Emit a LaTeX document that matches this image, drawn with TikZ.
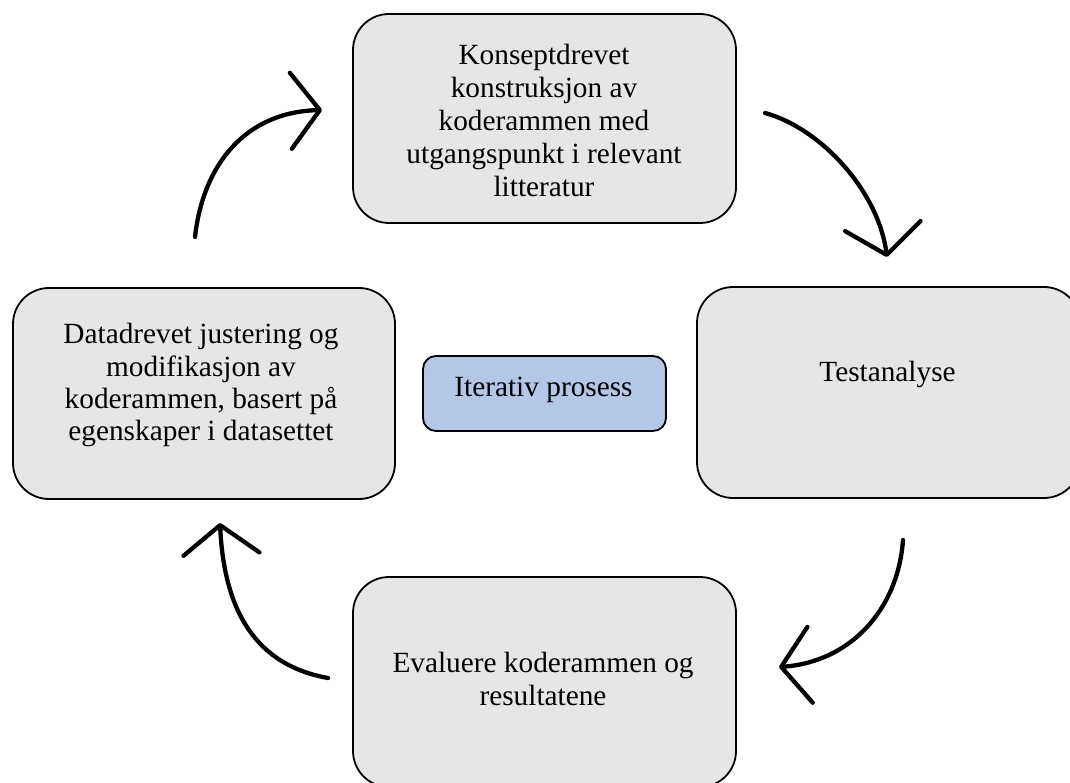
\documentclass[tikz,border=0pt]{standalone}
\usepackage{fontspec}
\setmainfont{Liberation Serif}
\usetikzlibrary{arrows.meta}
\definecolor{boxgray}{HTML}{E6E6E6}
\definecolor{boxblue}{HTML}{B4C7E7}
\newcommand{\lines}[1]{\begin{tabular}[t]{@{}c@{}}#1\end{tabular}}
\begin{document}
\begin{tikzpicture}[x=1pt,y=-1pt,
  stage/.style={draw=black, line width=1.8pt, fill=boxgray, rounded corners=36pt, inner sep=0pt},
  hub/.style={draw=black, line width=1.8pt, fill=boxblue, rounded corners=13pt, inner sep=0pt},
  caption/.style={anchor=base, inner sep=0pt, font=\fontsize{29.3}{33}\selectfont},
  flow/.style={line width=4.3pt, line cap=round, -{Straight Barb[length=29pt,width=76pt,round]}}]
\useasboundingbox (0,0) rectangle (1070,783);

% the four stages of the cycle and the hub in the middle
\node[stage, minimum width=383pt, minimum height=209pt] (concept) at (544.5,118.5) {};
\node[stage, minimum width=383pt, minimum height=211pt] (test)    at (888.5,392.5) {};
\node[stage, minimum width=383pt, minimum height=210pt] (eval)    at (544.5,682) {};
\node[stage, minimum width=382pt, minimum height=211pt] (adjust)  at (204,393.5) {};
\node[hub,   minimum width=243pt, minimum height=75pt]  (hub)     at (544.5,393.5) {};

% texts
\node[caption] (conceptText) at (544,64.5) {\lines{Konseptdrevet\\konstruksjon av\\koderammen med\\utgangspunkt i relevant\\litteratur}};
\node[caption] (testText)    at (887.5,381) {\lines{Testanalyse}};
\node[caption] (evalText)    at (543,672.5) {\lines{Evaluere koderammen og\\resultatene}};
\node[caption, font=\fontsize{29.3}{32.3}\selectfont] (adjustText) at (201,344) {\lines{Datadrevet justering og\\modifikasjon av\\koderammen, basert på\\egenskaper i datasettet}};
\node[caption] (hubText)     at (543.5,396) {\lines{Iterativ prosess}};

% free ends of the curved arrows
\coordinate (a1s) at (195,237);  \coordinate (a1e) at (322,110);
\coordinate (a2s) at (765,113);  \coordinate (a2e) at (887,257);
\coordinate (a3s) at (903,540);  \coordinate (a3e) at (779,667);
\coordinate (a4s) at (328,678);  \coordinate (a4e) at (220,523);

\draw[flow] (a1s) .. controls (203,165) and (245,112) .. (a1e);
\draw[flow] (a2s) .. controls (820,128) and (878,190) .. (a2e);
\draw[flow] (a3s) .. controls (898,610) and (850,662) .. (a3e);
\draw[flow] (a4s) .. controls (255,665) and (224,610) .. (a4e);
\end{tikzpicture}
\end{document}
